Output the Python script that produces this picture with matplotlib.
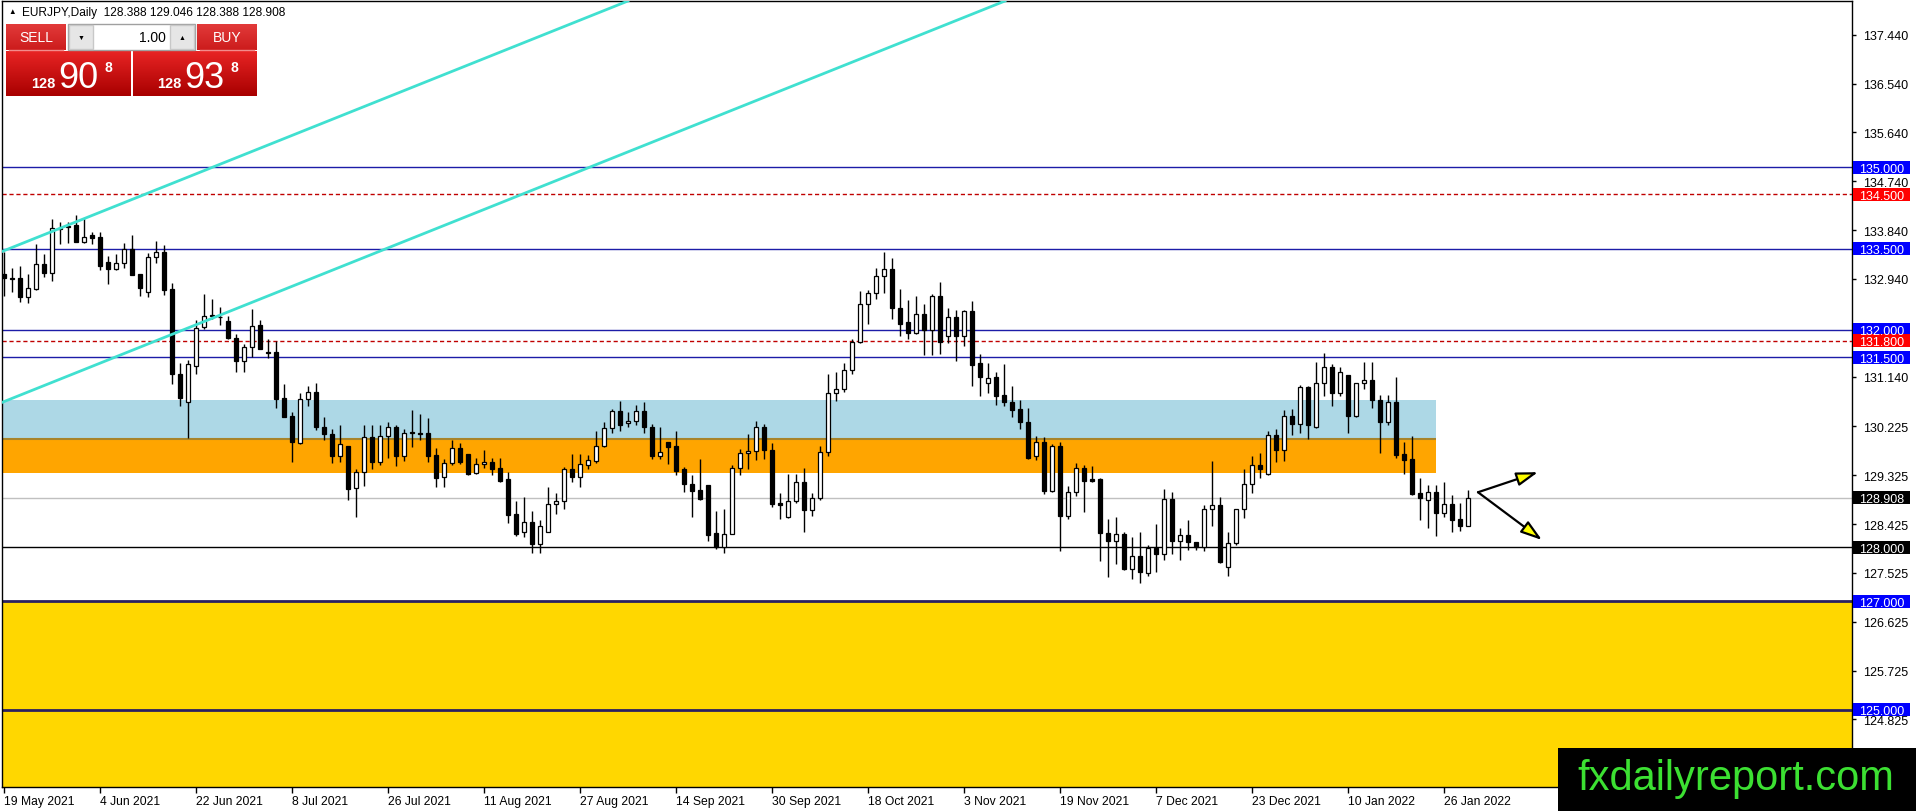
"""EURJPY daily candles with support/resistance zones, MT4-style screenshot."""
import numpy as np
import matplotlib
matplotlib.use("Agg")
import matplotlib.pyplot as plt
from matplotlib.patches import Rectangle
from matplotlib.colors import LinearSegmentedColormap
from matplotlib.transforms import blended_transform_factory

plt.rcParams["font.family"] = ["Liberation Sans", "DejaVu Sans"]

# ---- data (bar index 0 = 19 May 2021) ----
opens = [133.03, 132.96, 132.96, 132.60, 132.75, 133.21, 133.04, 133.86, 133.89, 133.93,
         133.62, 133.75, 133.71, 133.26, 133.12, 133.24, 133.49, 133.03, 132.70, 133.35,
         133.44, 132.75, 131.19, 130.67, 131.34, 132.05, 132.27, 132.24, 132.17, 131.86,
         131.42, 131.68, 132.09, 131.59, 131.59, 130.74, 130.41, 129.92, 130.73, 130.85,
         130.22, 130.09, 129.67, 129.87, 129.08, 129.38, 130.02, 129.57, 130.05, 130.22,
         129.67, 130.12, 130.10, 130.10, 129.70, 129.30, 129.54, 129.82, 129.72, 129.36,
         129.53, 129.56, 129.45, 129.25, 128.61, 128.27, 128.46, 128.05, 128.28, 128.79,
         128.84, 129.44, 129.30, 129.52, 129.59, 129.86, 130.19, 130.50, 130.29, 130.33,
         130.50, 130.21, 129.67, 129.93, 129.86, 129.43, 129.17, 129.05, 129.14, 128.26,
         128.01, 128.25, 129.45, 129.74, 129.77, 130.21, 129.78, 128.81, 128.55, 128.84,
         129.19, 128.69, 128.90, 129.76, 130.83, 130.92, 131.26, 131.77, 132.48, 132.68,
         132.99, 133.13, 132.40, 132.14, 131.94, 132.30, 132.00, 132.62, 131.88, 132.23,
         131.89, 132.34, 131.39, 131.03, 131.14, 130.80, 130.68, 130.54, 130.30, 129.67,
         129.93, 129.03, 129.87, 128.57, 129.01, 129.45, 129.25, 129.25, 128.26, 128.12,
         128.25, 127.60, 127.83, 127.52, 127.99, 127.88, 128.88, 128.12, 128.23, 128.09,
         128.01, 128.71, 128.77, 127.63, 128.07, 128.71, 129.16, 129.52, 129.35, 130.07,
         129.78, 130.42, 130.27, 130.94, 130.22, 131.03, 131.31, 130.83, 131.17, 130.42,
         131.02, 131.08, 130.71, 130.30, 130.68, 129.71, 129.62, 128.99, 128.87, 129.01,
         128.62, 128.79, 128.52, 128.388]
highs = [133.43, 133.15, 133.18, 133.03, 133.58, 133.40, 134.04, 133.98, 133.98, 134.12,
         134.07, 133.80, 133.80, 133.37, 133.40, 133.61, 133.75, 133.03, 133.42, 133.64,
         133.56, 132.86, 131.40, 131.45, 132.19, 132.67, 132.57, 132.43, 132.26, 131.92,
         131.74, 132.39, 132.19, 131.83, 131.80, 131.00, 130.48, 130.83, 130.97, 131.03,
         130.39, 130.17, 130.25, 129.87, 129.44, 130.25, 130.24, 130.25, 130.31, 130.24,
         130.17, 130.53, 130.45, 130.37, 129.82, 129.62, 129.97, 129.91, 129.72, 129.64,
         129.78, 129.65, 129.65, 129.38, 128.84, 128.92, 128.67, 128.49, 129.11, 128.99,
         129.47, 129.71, 129.71, 129.70, 130.14, 130.30, 130.54, 130.70, 130.48, 130.61,
         130.67, 130.27, 130.22, 129.93, 130.14, 129.47, 129.32, 129.62, 129.14, 128.67,
         128.71, 129.51, 129.81, 130.08, 130.33, 130.27, 129.92, 129.00, 129.35, 129.35,
         129.45, 129.00, 129.87, 131.19, 131.23, 131.40, 131.83, 132.72, 132.74, 133.15,
         133.43, 133.32, 132.75, 132.56, 132.62, 132.48, 132.66, 132.89, 132.40, 132.37,
         132.37, 132.54, 131.56, 131.39, 131.23, 131.37, 130.97, 130.71, 130.56, 130.05,
         130.02, 129.90, 129.94, 129.13, 129.55, 129.51, 129.50, 129.28, 128.52, 128.55,
         128.28, 128.18, 128.28, 128.04, 128.43, 129.07, 129.01, 128.36, 128.49, 128.09,
         128.77, 129.59, 128.92, 128.27, 128.71, 129.44, 129.68, 129.73, 130.13, 130.17,
         130.52, 130.54, 130.98, 130.97, 131.41, 131.57, 131.37, 131.31, 131.17, 131.02,
         131.41, 131.41, 130.80, 130.80, 131.13, 129.93, 130.04, 129.27, 129.14, 129.14,
         129.19, 128.96, 128.81, 129.046]
lows = [132.63, 132.69, 132.51, 132.49, 132.74, 132.97, 132.91, 133.58, 133.61, 133.62,
        133.61, 133.58, 133.11, 132.85, 133.11, 133.15, 133.01, 132.63, 132.61, 133.23,
        132.64, 131.00, 130.59, 130.01, 131.19, 132.02, 132.20, 132.09, 131.83, 131.23,
        131.23, 131.51, 131.64, 131.49, 130.56, 130.39, 129.56, 129.89, 130.60, 130.16,
        129.98, 129.55, 129.56, 128.86, 128.55, 129.12, 129.44, 129.52, 129.65, 129.49,
        129.59, 129.84, 129.97, 129.56, 129.11, 129.10, 129.51, 129.53, 129.33, 129.35,
        129.45, 129.33, 129.19, 128.44, 128.21, 128.18, 127.89, 127.90, 128.27, 128.61,
        128.71, 129.19, 129.11, 129.44, 129.54, 129.84, 130.11, 130.14, 130.21, 130.25,
        130.11, 129.62, 129.63, 129.53, 129.32, 129.01, 128.56, 128.86, 128.11, 127.97,
        127.89, 128.24, 129.33, 129.43, 129.61, 129.62, 128.73, 128.52, 128.53, 128.82,
        128.28, 128.58, 128.87, 129.68, 130.70, 130.85, 131.19, 131.76, 132.11, 132.57,
        132.68, 132.21, 131.88, 131.83, 131.92, 131.53, 131.53, 131.56, 131.76, 131.43,
        131.71, 130.97, 130.79, 130.84, 130.62, 130.59, 130.39, 130.17, 129.62, 129.61,
        128.98, 129.01, 127.93, 128.52, 128.95, 128.65, 129.20, 127.75, 127.44, 127.69,
        127.57, 127.42, 127.34, 127.46, 127.55, 127.77, 127.87, 127.77, 127.95, 127.95,
        127.93, 128.39, 127.70, 127.47, 128.03, 128.53, 128.99, 129.28, 129.32, 129.56,
        129.59, 130.07, 130.11, 129.99, 130.19, 130.79, 130.59, 130.78, 130.11, 130.39,
        130.91, 130.57, 129.73, 130.24, 129.65, 129.35, 128.96, 128.50, 128.36, 128.20,
        128.55, 128.28, 128.30, 128.388]
closes = [132.95, 132.94, 132.61, 132.77, 133.21, 133.04, 133.87, 133.88, 133.92, 133.62,
          133.72, 133.70, 133.18, 133.12, 133.24, 133.49, 133.01, 132.77, 133.35, 133.43,
          132.74, 131.18, 130.75, 131.37, 132.03, 132.26, 132.26, 132.23, 131.85, 131.42,
          131.68, 132.08, 131.64, 131.58, 130.73, 130.39, 129.93, 130.73, 130.85, 130.22,
          130.08, 129.67, 129.89, 129.07, 129.38, 130.02, 129.57, 130.05, 130.22, 129.67,
          130.11, 130.10, 130.09, 129.68, 129.28, 129.54, 129.82, 129.57, 129.35, 129.53,
          129.56, 129.44, 129.22, 128.60, 128.24, 128.46, 128.05, 128.38, 128.79, 128.84,
          129.44, 129.30, 129.53, 129.60, 129.86, 130.19, 130.50, 130.24, 130.33, 130.51,
          130.21, 129.67, 129.75, 129.85, 129.41, 129.16, 129.04, 128.89, 128.23, 128.00,
          128.25, 129.45, 129.73, 129.77, 130.22, 129.79, 128.79, 128.77, 128.84, 129.19,
          128.69, 128.90, 129.76, 130.83, 130.92, 131.26, 131.77, 132.48, 132.68, 132.99,
          133.13, 132.40, 132.11, 131.94, 132.30, 132.00, 132.62, 131.77, 132.23, 131.89,
          132.34, 131.36, 131.14, 131.12, 130.79, 130.68, 130.53, 130.30, 129.65, 129.93,
          129.04, 129.87, 128.57, 129.01, 129.45, 129.21, 129.21, 128.26, 128.12, 128.25,
          127.60, 127.83, 127.54, 127.99, 127.88, 128.88, 128.12, 128.23, 128.09, 128.01,
          128.71, 128.77, 127.73, 128.07, 128.71, 129.17, 129.52, 129.44, 130.07, 129.78,
          130.42, 130.27, 130.94, 130.24, 131.03, 131.31, 130.83, 131.22, 130.42, 131.02,
          131.08, 130.71, 130.30, 130.67, 129.70, 129.61, 128.98, 128.90, 129.01, 128.62,
          128.79, 128.50, 128.39, 128.908]

date_ticks = list(range(0, 181, 12))
date_labels = ["19 May 2021", "4 Jun 2021", "22 Jun 2021", "8 Jul 2021", "26 Jul 2021",
               "11 Aug 2021", "27 Aug 2021", "14 Sep 2021", "30 Sep 2021", "18 Oct 2021",
               "3 Nov 2021", "19 Nov 2021", "7 Dec 2021", "23 Dec 2021", "10 Jan 2022",
               "26 Jan 2022"]
price_ticks = [137.44, 136.54, 135.64, 134.74, 133.84, 132.94, 131.14, 130.225,
               129.325, 128.425, 127.525, 126.625, 125.725, 124.825]

blue_levels = [135.0, 133.5, 132.0, 131.5]
red_levels = [134.5, 131.8]
support_levels = [127.0, 125.0]
round_level = 128.0
bid_price = 128.908
level_tags = [(135.0, "#0000ff"), (134.5, "#ff0000"), (133.5, "#0000ff"),
              (132.0, "#0000ff"), (131.8, "#ff0000"), (131.5, "#0000ff"),
              (128.908, "#000000"), (128.0, "#000000"), (127.0, "#0000ff"),
              (125.0, "#0000ff")]

zone_blue = (130.0, 130.71)
zone_orange = (129.36, 130.0)
zone_end = 179
yellow_top = 127.0

channel_upper = [(0, 133.46), (60, 136.999)]
channel_lower = [(0, 130.68), (60, 134.219)]

arrow_start = (184.25, 129.01)
arrow_ends = [(191.75, 129.38), (192.25, 128.13)]

# ---- figure ----
W, H = 1916, 812
fig = plt.figure(figsize=(W / 100, H / 100), dpi=100, facecolor="white")
ax = fig.add_axes([2 / W, 24 / H, 1850 / W, 786 / H])
ax.set_xlim(-0.25, 231)
ax.set_ylim(123.58, 138.06)

ax.axhspan(110, yellow_top, color="#ffd700", zorder=0.5, lw=0)
ax.add_patch(Rectangle((-1, zone_blue[0]), zone_end + 1, zone_blue[1] - zone_blue[0],
                       facecolor="#add8e6", edgecolor="none", zorder=1))
ax.add_patch(Rectangle((-1, zone_orange[0]), zone_end + 1, zone_orange[1] - zone_orange[0],
                       facecolor="#ffa500", edgecolor="none", zorder=1))
ax.hlines(zone_orange[1], -1, zone_end, color="#a8842a", lw=1.5, zorder=1.2)

for lv in blue_levels:
    ax.axhline(lv, color="#1c1ca8", lw=1.0, zorder=1.5)
for lv in red_levels:
    ax.axhline(lv, color="#c00000", lw=1.0, ls=(0, (3, 2)), zorder=1.5)
for lv in support_levels:
    ax.axhline(lv, color="#2a2060", lw=2.0, zorder=1.5)
ax.axhline(round_level, color="black", lw=1.0, zorder=1.5)
ax.axhline(bid_price, color="#c0c0c0", lw=1.0, zorder=1.5)

# candles
o = np.array(opens)
h = np.array(highs)
l = np.array(lows)
c = np.array(closes)
x = np.arange(len(o))
up = c >= o
ax.vlines(x, l, h, color="black", lw=1.0, zorder=2.9)
ax.bar(x[up], (c - o)[up], bottom=o[up], width=0.6, facecolor="white",
       edgecolor="black", lw=0.9, zorder=3)
ax.bar(x[~up], (o - c)[~up], bottom=c[~up], width=0.6, facecolor="black",
       edgecolor="black", lw=0.9, zorder=3)

for pts in (channel_upper, channel_lower):
    ax.axline(pts[0], pts[1], color="#40e0d0", lw=2.0, zorder=4)

for end in arrow_ends:
    ax.annotate("", xy=end, xytext=arrow_start,
                arrowprops=dict(arrowstyle="-|>,head_length=1.0,head_width=0.32",
                                fc="#ffff00", ec="black", lw=1.6,
                                mutation_scale=13, shrinkA=0, shrinkB=0),
                zorder=5)

# axes styling
for sp in ax.spines.values():
    sp.set_color("black")
    sp.set_linewidth(1.0)
ax.yaxis.tick_right()
ax.set_yticks(price_ticks)
ax.set_yticklabels([f"{p:.3f}" for p in price_ticks])
ax.tick_params(axis="y", length=3, width=1, pad=5, labelsize=9, colors="black")
ax.set_xticks(date_ticks)
ax.set_xticklabels(date_labels)
ax.tick_params(axis="x", length=4, width=1, pad=2, labelsize=8.7)
for lbl in ax.get_xticklabels():
    lbl.set_ha("left")

trans = blended_transform_factory(ax.transAxes, ax.transData)
px = 1.0 / 1850
for lv, col in level_tags:
    ax.add_patch(Rectangle((1 + 1 * px, lv - 0.12), 57 * px, 0.24, transform=trans,
                           facecolor=col, edgecolor="none", clip_on=False, zorder=6))
    ax.text(1 + 7 * px, lv, f"{lv:.3f}", transform=trans, color="white", fontsize=9,
            va="center_baseline", ha="left", clip_on=False, zorder=7)

# ---- overlay: header, trade panel, watermark (pixel coordinates) ----
ov = fig.add_axes([0, 0, 1, 1], zorder=10)
ov.set_axis_off()
ov.patch.set_alpha(0)

red_lo = LinearSegmentedColormap.from_list("rl", ["#e82424", "#a80000"])
red_hi = LinearSegmentedColormap.from_list("rh", ["#e23a3a", "#cc1c1c"])
grad = np.linspace(0, 1, 64).reshape(-1, 1)


def gradient_box(x0, y0, x1, y1, cmap):
    ov.imshow(grad, extent=(x0, x1, y1, y0), aspect="auto", cmap=cmap, zorder=1,
              interpolation="bilinear")


gradient_box(6, 25, 66, 51, red_hi)
gradient_box(197, 25, 257, 51, red_hi)
gradient_box(6, 52, 131, 97, red_lo)
gradient_box(133, 52, 257, 97, red_lo)
ov.plot([9, 63], [51, 51], color="#f28c8c", lw=1, zorder=2)
ov.plot([200, 254], [51, 51], color="#f28c8c", lw=1, zorder=2)
ov.add_patch(Rectangle((68, 25), 127, 26, facecolor="white", edgecolor="#a0a0a0",
                       lw=1, zorder=2))
ov.add_patch(Rectangle((69, 26), 24, 24, facecolor="#e6e6e6", edgecolor="#c8c8c8",
                       lw=1, zorder=3))
ov.add_patch(Rectangle((170, 26), 24, 24, facecolor="#e6e6e6", edgecolor="#c8c8c8",
                       lw=1, zorder=3))
ov.text(81, 38, "▼", fontsize=5, ha="center", va="center", zorder=4)
ov.text(182, 38, "▲", fontsize=5, ha="center", va="center", zorder=4)
ov.text(166, 38, "1.00", fontsize=10, ha="right", va="center", zorder=4)
ov.text(36, 38, "SELL", fontsize=10, color="white", ha="center", va="center", zorder=4)
ov.text(227, 38, "BUY", fontsize=10, color="white", ha="center", va="center", zorder=4)

for x0, big in ((31, "90"), (157, "93")):
    ov.text(x0, 88, "128", fontsize=10.5, fontweight="bold", color="white",
            va="baseline", zorder=4)
    ov.text(x0 + 27, 88, big, fontsize=26, color="white", va="baseline", zorder=4)
    ov.text(x0 + 74, 72, "8", fontsize=10, fontweight="bold", color="white",
            va="baseline", zorder=4)

ov.text(8, 13, "▲", fontsize=5.5, va="center", zorder=4)
ov.text(22, 13, "EURJPY,Daily  128.388 129.046 128.388 128.908", fontsize=8.6,
        va="center", zorder=4)

ov.add_patch(Rectangle((1558, 749), 358, 63, facecolor="black", edgecolor="none", zorder=5))
ov.text(1736, 779, "fxdailyreport.com", fontsize=30, color="#3ce032", ha="center",
        va="center", zorder=6)

ov.set_xlim(0, W)
ov.set_ylim(H, 0)

fig.savefig("out.png", dpi=100)
